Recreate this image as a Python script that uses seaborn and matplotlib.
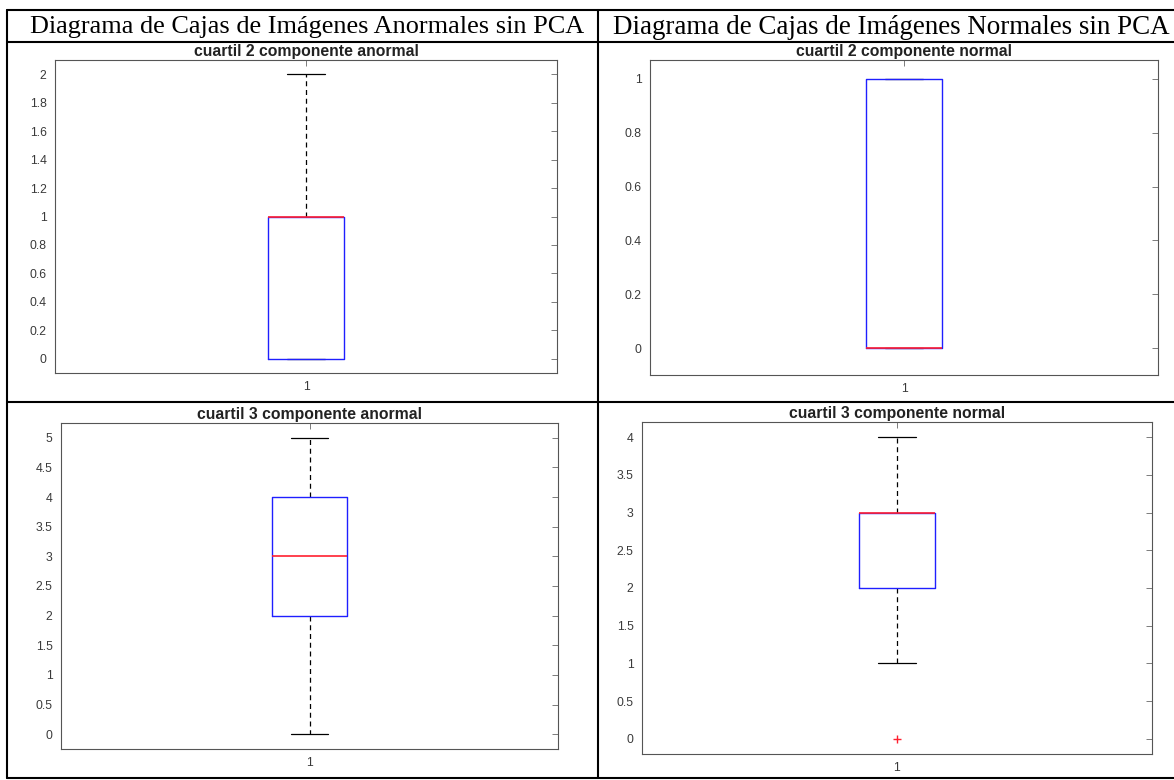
import numpy as np
import pandas as pd
import matplotlib
matplotlib.use("Agg")
import matplotlib.pyplot as plt
from matplotlib.lines import Line2D
import seaborn as sns

# Column headers of the comparison table
col_headers = [
    "Diagrama de Cajas de Imágenes Anormales sin PCA",
    "Diagrama de Cajas de Imágenes Normales sin PCA",
]

# Per-image quartile counts for each group
q2_anormal = [0, 0, 0, 1, 1, 1, 1, 2]
q2_normal = [0, 0, 0, 0, 1, 1, 1]
q3_anormal = [0, 2, 2, 3, 3, 3, 4, 4, 5]
q3_normal = [0, 1, 2, 2, 2, 3, 3, 3, 3, 3, 4]

panel_titles = [
    "cuartil 2 componente anormal",
    "cuartil 2 componente normal",
    "cuartil 3 componente anormal",
    "cuartil 3 componente normal",
]
panel_data = [q2_anormal, q2_normal, q3_anormal, q3_normal]
panel_yticks = [
    np.round(np.arange(0, 2.01, 0.2), 1),
    np.round(np.arange(0, 1.01, 0.2), 1),
    np.round(np.arange(0, 5.01, 0.5), 1),
    np.round(np.arange(0, 4.01, 0.5), 1),
]
panel_ylims = [(-0.1, 2.1), (-0.1, 1.07), (-0.25, 5.25), (-0.2, 4.2)]
group_label = "1"

sns.set_style("white")
plt.rcParams["font.family"] = ["Liberation Sans", "DejaVu Sans"]

W, H = 1174, 780
fig = plt.figure(figsize=(W / 100, H / 100), dpi=100)
fig.patch.set_facecolor("white")

# axes boxes in pixels: (left, top, right, bottom)
boxes_px = [
    (55, 60, 557, 373),
    (650, 60, 1158, 375),
    (61, 423, 558, 749),
    (642, 422, 1152, 754),
]


def px_rect(l, t, r, b):
    return [l / W, 1 - b / H, (r - l) / W, (b - t) / H]


def fmt(v):
    return f"{v:g}"


for vals, title, ticks, ylim, bpx in zip(
    panel_data, panel_titles, panel_yticks, panel_ylims, boxes_px
):
    ax = fig.add_axes(px_rect(*bpx))
    df = pd.DataFrame({"grupo": [group_label] * len(vals), "valor": vals})
    sns.boxplot(
        data=df, x="grupo", y="valor", ax=ax, width=0.15, fill=False,
        linewidth=1.0, whis=1.5, color="#1f1fff",
        boxprops=dict(color="#1f1fff", zorder=3),
        medianprops=dict(color="#ff2030", linewidth=1.2, zorder=4),
        whiskerprops=dict(color="black", linestyle=(0, (4, 3)),
                          linewidth=0.9, zorder=2),
        capprops=dict(color="black", linestyle="-", linewidth=0.9, zorder=2),
        flierprops=dict(marker="+", markeredgecolor="#ff2030",
                        markersize=6, markeredgewidth=1.0, zorder=4),
    )
    ax.set_ylim(*ylim)
    ax.set_xlim(-0.5, 0.5)
    ax.set_yticks(ticks)
    ax.set_yticklabels([fmt(t) for t in ticks])
    ax.set_xlabel("")
    ax.set_ylabel("")
    ax.set_title(title, fontsize=11.3, fontweight="bold", color="#222222",
                 pad=3)
    ax.tick_params(axis="both", which="both", direction="in", top=True,
                   right=True, length=4, width=0.6, colors="#666666",
                   labelsize=8.8, labelcolor="#3a3a3a", pad=6)
    for sp in ax.spines.values():
        sp.set_visible(True)
        sp.set_color("#555555")
        sp.set_linewidth(0.8)

# table rules
lw = 1.5


def hline(y, x0=7, x1=W):
    fig.add_artist(Line2D([x0 / W, x1 / W], [1 - y / H, 1 - y / H],
                          transform=fig.transFigure, color="black", lw=lw))


def vline(x, y0=10, y1=778):
    fig.add_artist(Line2D([x / W, x / W], [1 - y0 / H, 1 - y1 / H],
                          transform=fig.transFigure, color="black", lw=lw))


hline(10)
hline(42)
hline(402)
hline(778)
vline(7)
vline(598)

# column headers fitted to their cells
renderer = fig.canvas.get_renderer()
header_spans = [(30, 584), (612, 1170)]
for text, (x0, x1) in zip(col_headers, header_spans):
    t = fig.text((x0 + x1) / 2 / W, 1 - 27 / H, text, ha="center", va="center",
                 fontsize=19, family=["Liberation Serif", "DejaVu Serif"],
                 color="black")
    bb = t.get_window_extent(renderer=renderer)
    t.set_fontsize(19 * (x1 - x0) / bb.width)

fig.savefig("out.png", dpi=100, facecolor="white")
